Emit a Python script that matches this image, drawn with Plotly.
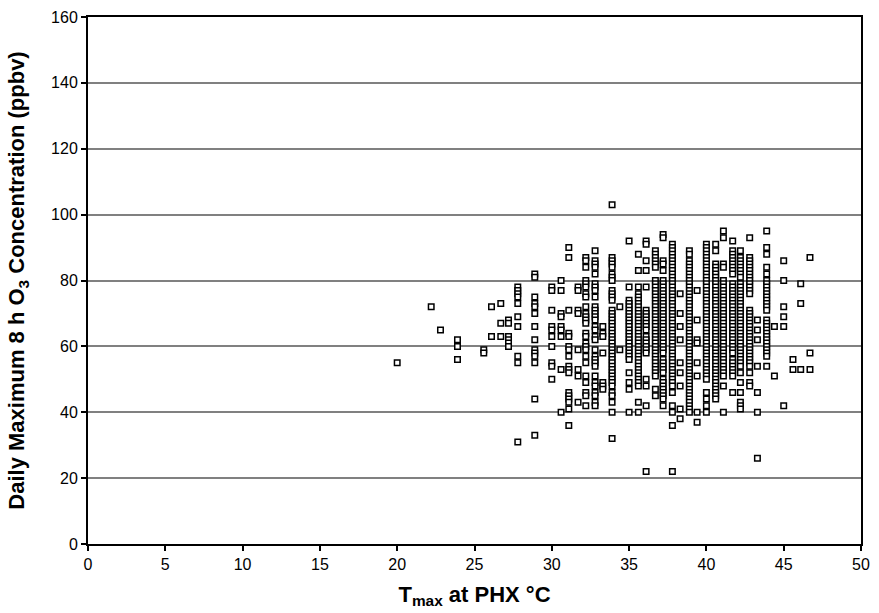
import plotly.graph_objects as go

# Daily maximum temperature columns (°C, from whole-degree °F readings)
tmax_cool = [20.0, 22.2, 22.8, 23.9, 25.6, 26.1, 26.7, 27.2, 27.8, 28.9, 30.0]
tmax_warm = [30.6, 31.1, 31.7, 32.2, 32.8, 33.3, 33.9, 34.4, 35.0, 35.6]
tmax_hot = [36.1, 36.7, 37.2, 37.8, 38.3, 38.9, 39.4, 40.0, 40.6, 41.1]
tmax_extreme = [41.7, 42.2, 42.8, 43.3, 43.9, 44.4, 45.0, 45.6, 46.1, 46.7]

# Daily maximum 8 h O3 (ppbv) observed on days with each Tmax
o3_cool = [
    [55],
    [72],
    [65],
    [62, 60, 56],
    [59, 58],
    [72, 63],
    [73, 67, 63],
    [68, 67, 63, 62, 61, 60],
    [78, 77, 76, 75, 73, 69, 66, 57, 55, 31],
    [82, 81, 75, 73, 72, 70, 66, 62, 59, 58, 57, 55, 44, 33],
    [78, 77, 71, 66, 65, 63, 60, 55, 54, 50],
]
o3_warm = [
    [80, 77, 70, 69, 66, 65, 63, 53, 40],
    [90, 87, 71, 64, 63, 60, 59, 57, 54, 53, 52, 46, 45, 44, 43, 41, 36],
    [78, 77, 71, 70, 59, 53, 51, 43],
    [87, 86, 84, 80, 79, 78, 76, 75, 72, 70, 69, 68, 67, 64, 63, 61, 60, 59,
     57, 55, 51, 49, 46, 45, 42],
    [89, 86, 85, 84, 82, 79, 78, 77, 75, 72, 71, 70, 69, 68, 66, 65, 63, 62,
     59, 57, 56, 55, 54, 51, 49, 48, 46, 45, 43, 42],
    [66, 64, 63, 58, 49, 48, 47],
    [103, 87, 86, 85, 84, 82, 81, 80, 77, 76, 75, 74, 71, 70, 69, 68, 67, 66,
     65, 64, 63, 62, 61, 60, 59, 58, 57, 56, 55, 54, 53, 52, 51, 50, 49, 48,
     46, 45, 43, 40, 32],
    [72, 59],
    [92, 78, 74, 73, 72, 71, 70, 69, 68, 67, 66, 65, 64, 63, 62, 61, 60, 59,
     58, 57, 56, 52, 49, 47, 40],
    [88, 83, 78, 76, 75, 74, 73, 72, 71, 70, 69, 68, 67, 66, 65, 64, 63, 62,
     61, 60, 59, 58, 57, 56, 55, 54, 53, 52, 51, 50, 49, 48, 43, 40],
]
o3_hot = [
    [92, 91, 86, 83, 78, 71, 70, 69, 68, 67, 66, 65, 63, 62, 61, 60, 59, 58,
     50, 48, 42, 22],
    [89, 88, 87, 86, 85, 84, 80, 79, 78, 77, 76, 75, 74, 73, 72, 71, 70, 69,
     68, 67, 66, 65, 64, 63, 62, 61, 60, 59, 58, 57, 56, 55, 54, 53, 52, 51,
     47, 45],
    [94, 93, 86, 85, 83, 80, 79, 78, 77, 76, 75, 74, 73, 72, 71, 70, 69, 68,
     67, 66, 65, 64, 63, 62, 61, 60, 59, 58, 56, 55, 54, 53, 52, 50, 49, 48,
     47, 46, 45, 44, 42],
    [91, 90, 89, 88, 87, 86, 85, 84, 83, 82, 81, 80, 79, 78, 77, 76, 75, 74,
     73, 72, 71, 70, 69, 68, 67, 66, 65, 64, 63, 62, 61, 60, 59, 58, 57, 56,
     55, 54, 53, 52, 51, 50, 49, 48, 46, 42, 40, 36, 22],
    [76, 70, 66, 62, 55, 52, 48, 41, 38],
    [89, 88, 86, 85, 84, 83, 82, 81, 80, 79, 78, 77, 76, 75, 74, 73, 72, 71,
     70, 69, 68, 67, 66, 65, 64, 63, 62, 61, 60, 59, 58, 57, 56, 55, 54, 53,
     52, 51, 50, 49, 48, 47, 46, 45, 44, 43, 42, 41, 40],
    [77, 68, 62, 61, 55, 51, 40, 37],
    [91, 90, 89, 88, 87, 86, 85, 84, 83, 82, 81, 80, 79, 78, 77, 76, 75, 74,
     73, 72, 71, 70, 69, 68, 67, 66, 65, 64, 63, 62, 61, 60, 59, 58, 57, 56,
     55, 54, 53, 52, 51, 50, 46, 44, 42, 40],
    [91, 89, 85, 84, 83, 82, 81, 80, 79, 78, 77, 76, 75, 74, 73, 72, 71, 70,
     69, 68, 67, 66, 65, 64, 63, 62, 61, 60, 59, 58, 57, 56, 55, 54, 53, 52,
     51, 50, 49, 48, 47, 46, 45, 44],
    [95, 93, 85, 84, 80, 79, 78, 77, 76, 75, 74, 73, 72, 71, 70, 69, 68, 67,
     66, 65, 64, 63, 62, 61, 60, 59, 58, 57, 56, 55, 54, 53, 52, 51, 48, 40],
]
o3_extreme = [
    [92, 89, 88, 87, 86, 85, 84, 83, 82, 79, 78, 77, 76, 75, 74, 73, 72, 71,
     70, 69, 68, 67, 66, 65, 64, 63, 62, 61, 60, 59, 58, 56, 55, 54, 53, 52,
     51, 46],
    [89, 87, 86, 85, 84, 83, 82, 81, 79, 78, 77, 76, 75, 74, 73, 72, 71, 70,
     69, 68, 67, 66, 65, 64, 63, 62, 61, 60, 59, 58, 57, 56, 55, 54, 52, 49,
     46, 43, 42, 41],
    [93, 87, 86, 85, 84, 83, 82, 81, 80, 79, 78, 77, 76, 71, 70, 69, 68, 67,
     66, 65, 64, 63, 62, 61, 60, 59, 58, 57, 56, 55, 54, 52, 49, 48],
    [68, 65, 62, 54, 46, 40, 26],
    [95, 90, 88, 84, 82, 80, 79, 78, 77, 76, 75, 74, 73, 72, 71, 68, 67, 66,
     65, 64, 63, 62, 61, 60, 59, 58, 57, 54],
    [66, 51],
    [86, 80, 72, 69, 66, 42],
    [56, 53],
    [79, 73, 53],
    [87, 58, 53],
]

y_ticks = [0, 20, 40, 60, 80, 100, 120, 140, 160]
x_ticks = [0, 5, 10, 15, 20, 25, 30, 35, 40, 45, 50]

temps = tmax_cool + tmax_warm + tmax_hot + tmax_extreme
columns = o3_cool + o3_warm + o3_hot + o3_extreme
xs, ys = [], []
for t, col in zip(temps, columns):
    for v in col:
        xs.append(t)
        ys.append(v)

font_family = "Liberation Sans, Arial, sans-serif"

fig = go.Figure(
    go.Scatter(
        x=xs,
        y=ys,
        mode="markers",
        marker=dict(
            symbol="square",
            size=5.5,
            color="white",
            line=dict(color="black", width=1.5),
        ),
        hoverinfo="x+y",
    )
)

fig.update_layout(
    width=879,
    height=613,
    margin=dict(l=88, r=9, t=16, b=69),
    paper_bgcolor="white",
    plot_bgcolor="white",
    showlegend=False,
    font=dict(family=font_family, color="black", size=16),
)

fig.update_xaxes(
    range=[0, 50],
    tickvals=x_ticks,
    ticktext=[str(v) for v in x_ticks],
    showgrid=False,
    zeroline=False,
    showline=True,
    linecolor="black",
    linewidth=2,
    mirror=True,
    ticks="outside",
    ticklen=5,
    tickwidth=1.5,
    tickcolor="black",
    tickfont=dict(size=16),
    title=dict(
        text="<b>T<sub>max</sub> at PHX °C</b>",
        font=dict(size=22),
        standoff=14,
    ),
)

fig.update_yaxes(
    range=[0, 160],
    tickvals=y_ticks,
    ticktext=[str(v) for v in y_ticks],
    showgrid=True,
    gridcolor="#808080",
    gridwidth=1.5,
    zeroline=False,
    showline=True,
    linecolor="black",
    linewidth=2,
    mirror=True,
    ticks="outside",
    ticklen=5,
    tickwidth=1.5,
    tickcolor="black",
    tickfont=dict(size=16),
    title=dict(
        text="<b>Daily Maximum 8 h O<sub>3</sub> Concentration (ppbv)</b>",
        font=dict(size=22),
        standoff=20,
    ),
)

fig.write_html("out.html")
